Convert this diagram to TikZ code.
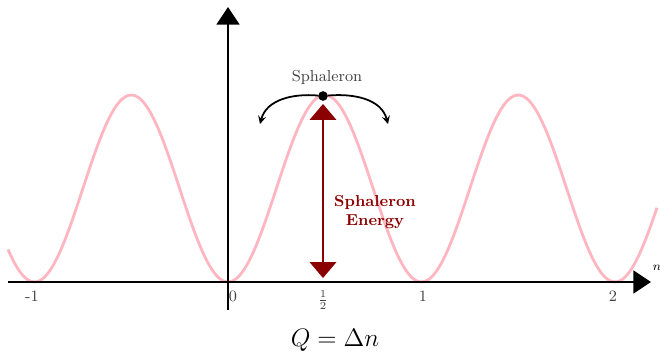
\documentclass[tikz,border=0pt]{standalone}
\usepackage{amsmath,amssymb}
\usetikzlibrary{arrows.meta}
\definecolor{sphred}{RGB}{139,0,0}
\definecolor{curvepink}{RGB}{255,182,193}

\begin{document}
\begin{tikzpicture}[>=stealth,x=0.02cm,y=0.02cm,
  axis/.style={line width=1.1pt,-{Triangle[width=13pt,length=10pt]}},
  ticklabel/.style={font=\small,text=black!75},
  energyarrow/.style={sphred,line width=1.1pt,{Triangle[width=15pt,length=9pt]}-{Triangle[width=15pt,length=9pt]}}]
\useasboundingbox (-228,-72) rectangle (432,282);
% potential
\draw[curvepink,line width=1.6pt,domain=-220:429,samples=200,smooth]
  plot (\x,{93.5*(1-cos(1.8605*\x))});
% axes
\coordinate (xstart) at (-220,0);
\coordinate (xend) at (423,0);
\coordinate (ystart) at (0,-28);
\coordinate (yend) at (0,275);
\draw[axis] (xstart) -- (xend);
\draw[axis] (ystart) -- (yend);
\node (nlab) at (429,14) {\scriptsize\(n\)};
\node[ticklabel] (tm1) at (-196,-14) {-1};
\node[ticklabel] (t0) at (5,-14) {0};
\node[ticklabel] (thalf) at (95,-18) {\(\frac12\)};
\node[ticklabel] (t1) at (195,-14) {1};
\node[ticklabel] (t2) at (385,-14) {2};
% sphaleron
\node[circle,fill=black,inner sep=0pt,minimum size=5.5pt] (sph) at (95,186) {};
\node[font=\small,text=black!75] (sphlab) at (99,205) {Sphaleron};
\coordinate (rollL) at (32,158);
\coordinate (rollR) at (160,158);
\draw[->,line width=1pt] (sph) to[out=175,in=75] (rollL);
\draw[->,line width=1pt] (sph) to[out=5,in=105] (rollR);
\coordinate (Ebot) at (95,4);
\coordinate (Etop) at (95,178);
\draw[energyarrow] (Ebot) -- (Etop);
\node[font=\small\bfseries,text=sphred,align=center] (Elab) at (147,70) {Sphaleron\\Energy};
\node[font=\Large] (Q) at (107,-58) {\(Q = \Delta n\)};
\end{tikzpicture}
\end{document}
